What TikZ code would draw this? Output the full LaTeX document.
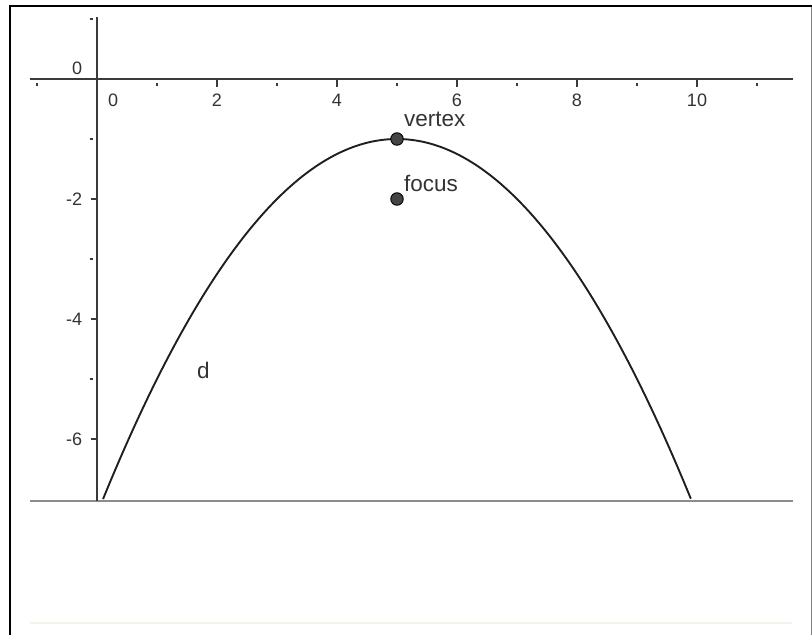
\documentclass[tikz,border=0pt]{standalone}
\usepackage{fontspec}
\setmainfont{Liberation Sans}
\definecolor{axisgray}{HTML}{3A3A3A}
\definecolor{txtgray}{HTML}{333333}
\definecolor{dotfill}{HTML}{444444}
\definecolor{linegray}{HTML}{8C8C8C}
\definecolor{faint}{HTML}{F6F1EA}
\begin{document}
\begin{tikzpicture}[x=1pt,y=-1pt,
  ticklab/.style={text=txtgray,font=\fontsize{18}{20}\selectfont,inner sep=0pt},
  ptlab/.style={text=txtgray,font=\fontsize{22.5}{24}\selectfont,inner sep=0pt,anchor=base west},
  ptdot/.style={circle,fill=dotfill,draw=black,line width=0.9pt,minimum size=12.5pt,inner sep=0pt},
  axisline/.style={draw=axisgray,line width=1.9pt},
  majtick/.style={draw=axisgray,line width=1.5pt},
  mintick/.style={draw=axisgray,line width=1.5pt}]
\useasboundingbox (0,0) rectangle (812,635);
% frame
\draw[black,line width=2.5pt] (10,635) -- (10,6) -- (812,6);
\draw[gray,line width=1pt] (811,7) -- (811,635);
% faint bottom line
\draw[faint,line width=2pt] (30,623) -- (792,623);
\begin{scope}[shift={(97,79)},x=60pt,y=60pt]
  % horizontal line at bottom
  \coordinate (bl) at (-1.117,-7.04);
  \coordinate (br) at (11.6,-7.04);
  \draw[linegray,line width=1.9pt] (bl) -- (br);
  % axes
  \coordinate (xl) at (-1.117,0);
  \coordinate (xr) at (11.6,0);
  \coordinate (yt) at (0,1.03);
  \coordinate (yb) at (0,-7.04);
  \draw[axisline] (xl) -- (xr);
  \draw[axisline,line width=1.6pt] (yt) -- (yb);
  % x ticks
  \foreach \X in {2,4,6,8,10} {
    \draw[majtick] (\X,0) -- ++(0,-0.13);
    \node[ticklab] at (\X,-0.35) {\X};
  }
  \foreach \X in {-1,1,3,5,7,9,11} {
    \draw[mintick] (\X,-0.06) -- ++(0,-0.06);
  }
  \node[ticklab] at (0.27,-0.35) {0};
  % y ticks
  \foreach \Y in {-2,-4,-6} {
    \draw[majtick] (0,\Y) -- ++(-0.1,0);
    \node[ticklab] at (-0.38,\Y) {\Y};
  }
  \foreach \Y in {1,-1,-3,-5} {
    \draw[mintick] (-0.07,\Y) -- ++(-0.05,0);
  }
  \node[ticklab] at (-0.33,0.18) {0};
  % parabola
  \draw[black!88,line width=1.9pt,domain=0.101:9.899,samples=120,smooth]
    plot (\x,{-1-(\x-5)*(\x-5)/4});
  % points
  \node[ptdot] (vertex) at (5,-1) {};
  \node[ptdot] (focus) at (5,-2) {};
\end{scope}
\node[ptlab] (vlab) at (404,126) {vertex};
\node[ptlab] (flab) at (404,191) {focus};
\node[ptlab] (dlab) at (197,378) {d};
\end{tikzpicture}
\end{document}
